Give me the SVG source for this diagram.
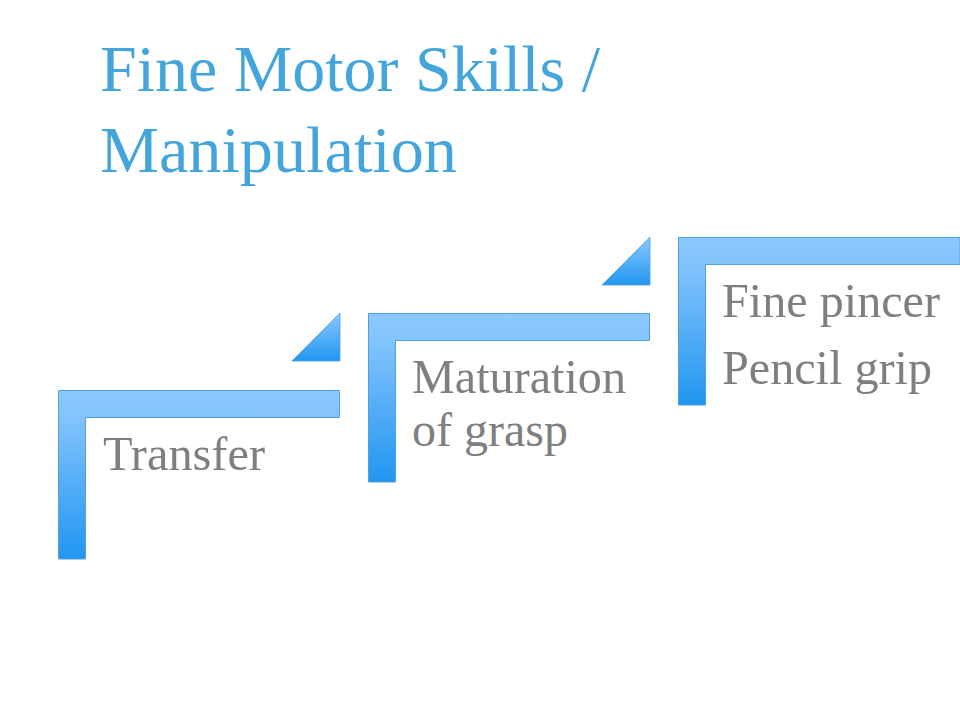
<svg xmlns="http://www.w3.org/2000/svg" width="960" height="720" viewBox="0 0 960 720">
  <defs>
    <linearGradient id="gL" x1="0" y1="0" x2="0" y2="1">
      <stop offset="0" stop-color="#8cc9fd"/>
      <stop offset="0.15" stop-color="#84c4fc"/>
      <stop offset="1" stop-color="#2196f0"/>
    </linearGradient>
    <linearGradient id="gT" x1="0" y1="0" x2="0" y2="1">
      <stop offset="0" stop-color="#8cc9fd"/>
      <stop offset="1" stop-color="#2196f0"/>
    </linearGradient>
  </defs>
  <style>
    .step { fill: url(#gL); stroke: #4f9fe2; stroke-width: 1; }
    .tri { fill: url(#gT); stroke: #4f9fe2; stroke-width: 0.8; }
    .lbl { font-size: 48px; fill: #7f7f7f; }
    .title { font-size: 66px; fill: #44a5dd; }
  </style>
  <rect width="960" height="720" fill="#ffffff"/>
  <g id="title" font-family="Liberation Serif, DejaVu Serif, serif">
    <text class="title" x="100" y="91" textLength="500" lengthAdjust="spacingAndGlyphs">Fine Motor Skills /</text>
    <text class="title" x="100" y="172" textLength="357" lengthAdjust="spacingAndGlyphs">Manipulation</text>
  </g>
  <g id="step1" font-family="Liberation Serif, DejaVu Serif, serif">
    <path class="step" d="M58.5,390.5 H339.5 V417.5 H85.5 V559 H58.5 Z"/>
    <path class="tri" d="M292,361 L340,313 L340,361 Z"/>
    <text class="lbl" x="103" y="470" textLength="162" lengthAdjust="spacingAndGlyphs">Transfer</text>
  </g>
  <g id="step2" font-family="Liberation Serif, DejaVu Serif, serif">
    <path class="step" d="M368.5,313.5 H649.5 V340.5 H395.5 V482 H368.5 Z"/>
    <path class="tri" d="M602,285 L650,237 L650,285 Z"/>
    <text class="lbl" x="412" y="393" textLength="214" lengthAdjust="spacingAndGlyphs">Maturation</text>
    <text class="lbl" x="412" y="446" textLength="156" lengthAdjust="spacingAndGlyphs">of grasp</text>
  </g>
  <g id="step3" font-family="Liberation Serif, DejaVu Serif, serif">
    <path class="step" d="M678.5,237.5 H960 V264.5 H705.5 V405 H678.5 Z"/>
    <text class="lbl" x="722" y="317" textLength="218" lengthAdjust="spacingAndGlyphs">Fine pincer</text>
    <text class="lbl" x="722" y="384" textLength="210" lengthAdjust="spacingAndGlyphs">Pencil grip</text>
  </g>
  <g id="connectors"/>
</svg>
